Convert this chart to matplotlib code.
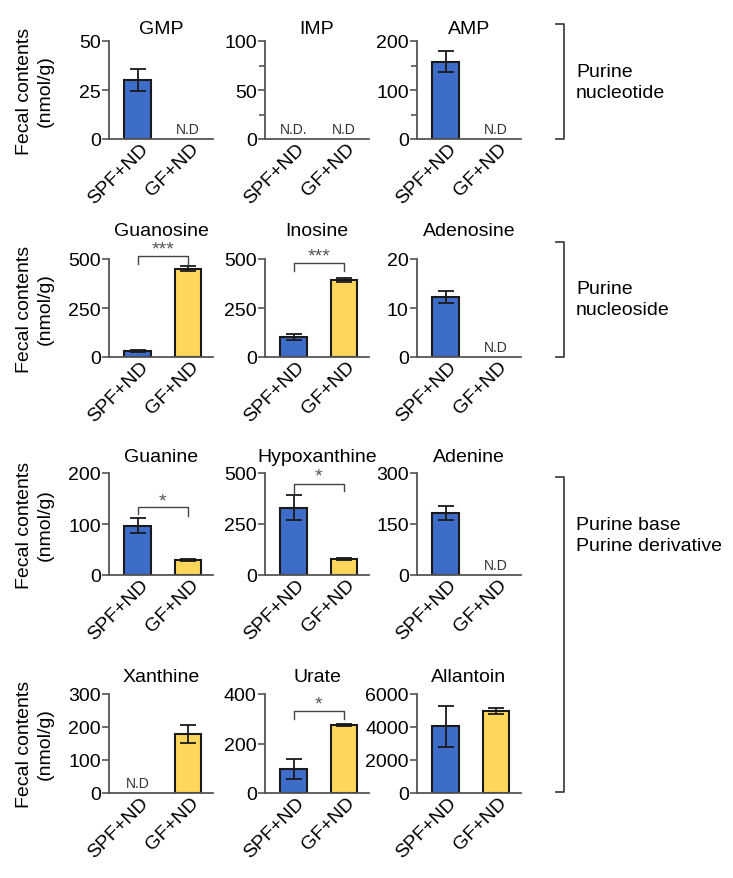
import numpy as np
import matplotlib.pyplot as plt
from matplotlib.ticker import MultipleLocator
from matplotlib.transforms import ScaledTranslation

plt.rcParams['font.family'] = ['Liberation Sans', 'DejaVu Sans']

# ---- data (None = not detected) ----
groups = ['SPF+ND', 'GF+ND']
titles = ['GMP', 'IMP', 'AMP',
          'Guanosine', 'Inosine', 'Adenosine',
          'Guanine', 'Hypoxanthine', 'Adenine',
          'Xanthine', 'Urate', 'Allantoin']
means = [[30, None], [None, None], [158, None],
         [33, 450], [100, 392], [12.2, None],
         [97, 30], [330, 78], [183, None],
         [None, 178], [97, 275], [4050, 4980]]
errs = [[5.5, 0], [0, 0], [21, 0],
        [5, 12], [15, 10], [1.2, 0],
        [14, 2], [60, 5], [20, 0],
        [0, 27], [40, 5], [1250, 200]]
nd_text = [[None, 'N.D'], ['N.D.', 'N.D'], [None, 'N.D'],
           [None, None], [None, None], [None, 'N.D'],
           [None, None], [None, None], [None, 'N.D'],
           ['N.D', None], [None, None], [None, None]]
ymax = [50, 100, 200, 500, 500, 20, 200, 500, 300, 300, 400, 6000]
ystep = [25, 50, 100, 250, 250, 10, 100, 250, 150, 100, 200, 2000]
minor = [None, 25, 50, None, None, None, None, None, None, None, None, None]
# significance: (panel, label, bar height, left leg, right leg, star y)
sig = [(3, '***', 515, 474, 474, 551),
       (4, '***', 480, 439, 437, 515),
       (6, '*', 133, 120, 116, 145),
       (7, '*', 446, 397, 412, 485),
       (10, '*', 331, 299, 299, 360)]
group_names = ['Purine\nnucleotide', 'Purine\nnucleoside',
               'Purine base\nPurine derivative']

blue = '#3d6cc9'
yellow = '#ffd65c'
axcol = '#555555'

W, H = 733, 879
fig = plt.figure(figsize=(W / 100, H / 100), dpi=100)

row_top = [42, 260, 474, 695]
row_bot = [140, 358, 576, 794]
title_y = [29, 232, 458, 678]
col_left = [109, 265, 417]
ax_w = 104

# rotated group labels sit slightly right of and below each tick
offset = ScaledTranslation(8 / 100, -7 / 100, fig.dpi_scale_trans)

axes = []
for i in range(12):
    r, c = divmod(i, 3)
    x0 = col_left[c] / W
    y0 = 1 - row_bot[r] / H
    h = (row_bot[r] - row_top[r]) / H
    ax = fig.add_axes([x0, y0, ax_w / W, h])
    axes.append(ax)
    x = np.arange(2)
    for j in range(2):
        if means[i][j] is not None:
            ax.bar(x[j], means[i][j], width=0.53, color=[blue, yellow][j],
                   edgecolor='#1a1a1a', linewidth=1.5, zorder=2)
            ax.errorbar(x[j], means[i][j], yerr=errs[i][j], fmt='none',
                        ecolor='#1a1a1a', elinewidth=1.3, capsize=6,
                        capthick=1.3, zorder=3)
        if nd_text[i][j]:
            ax.text(x[j], ymax[i] * 0.03, nd_text[i][j], ha='center',
                    va='bottom', fontsize=10, color='#333333')
        ax.text(x[j], 0, groups[j], rotation=45, ha='right', va='center',
                rotation_mode='anchor', fontsize=14,
                transform=ax.get_xaxis_transform() + offset)
    ax.set_xlim(-0.57, 1.5)
    ax.set_ylim(0, ymax[i])
    ax.set_yticks(np.arange(0, ymax[i] + 1, ystep[i]))
    if minor[i]:
        ax.yaxis.set_minor_locator(MultipleLocator(minor[i]))
        ax.tick_params(axis='y', which='minor', length=4, width=1.2, color=axcol)
    ax.set_xticks([])
    ax.tick_params(axis='y', labelsize=14, length=5, width=1.2, color=axcol, pad=1)
    for s in ['top', 'right']:
        ax.spines[s].set_visible(False)
    for s in ['left', 'bottom']:
        ax.spines[s].set_color(axcol)
        ax.spines[s].set_linewidth(1.3)
    fig.text((col_left[c] + ax_w / 2) / W, 1 - title_y[r] / H, titles[i],
             ha='center', va='center', fontsize=14)

for p, lab, yb, yl, yr, ys in sig:
    ax = axes[p]
    ax.plot([0, 0, 1, 1], [yl, yb, yb, yr], color='#444444', lw=1.0,
            clip_on=False, zorder=4)
    ax.text(0.5, ys, lab, ha='center', va='center', fontsize=14,
            color='#555555', clip_on=False)

for r in range(4):
    yc = 1 - (row_top[r] + row_bot[r]) / 2 / H
    fig.text(35 / W, yc, 'Fecal contents\n(nmol/g)', rotation=90,
             ha='center', va='center', fontsize=14, linespacing=1.25)

# group brackets on the right
brackets = [(25, 140), (243, 358), (478, 793)]
label_y = [83, 300, 536]
bx = 564
for (t, b), ly, name in zip(brackets, label_y, group_names):
    fig.lines.append(plt.Line2D([(bx - 8) / W, bx / W, bx / W, (bx - 8) / W],
                                [1 - t / H, 1 - t / H, 1 - b / H, 1 - b / H],
                                transform=fig.transFigure, color='#444444', lw=1.3))
    fig.text(576 / W, 1 - ly / H, name, ha='left', va='center', fontsize=14,
             linespacing=1.3)

fig.savefig('out.png', dpi=100)
